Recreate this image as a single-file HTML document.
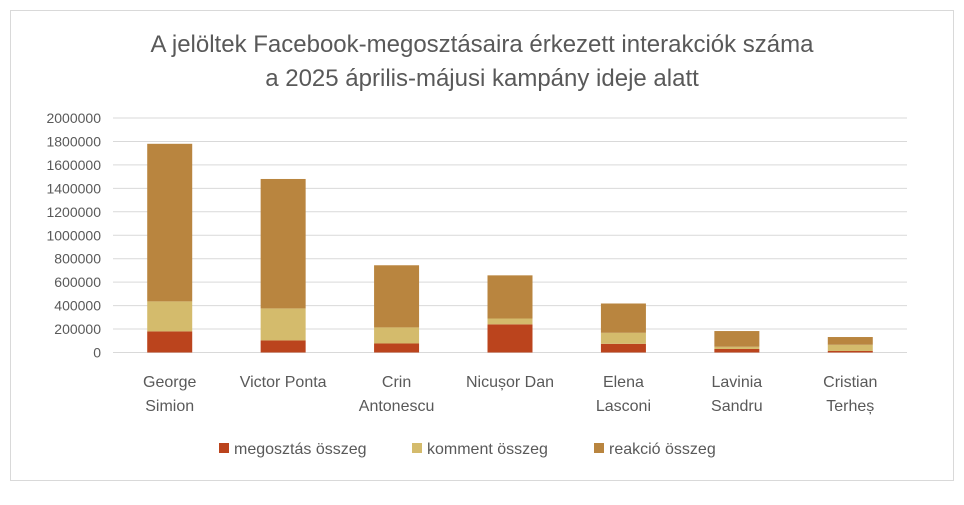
<!DOCTYPE html>
<html><head><meta charset="utf-8"><style>
body{margin:0;background:#fff;font-family:"Liberation Sans",sans-serif;}
#wrap{position:relative;width:964px;height:500px;}
</style></head><body>
<div id="wrap">
<svg id="chart" width="964" height="500">
<rect x="10.5" y="10.5" width="943" height="470" fill="#fff" stroke="#d9d9d9"/>
<text x="482" y="52" text-anchor="middle" font-size="24" fill="#595959">A jelöltek Facebook-megosztásaira érkezett interakciók száma</text>
<text x="482" y="86" text-anchor="middle" font-size="24" fill="#595959">a 2025 április-májusi kampány ideje alatt</text>
<g id="grid"></g><g id="bars"></g><g id="labels"></g>
<g>
<rect x="219" y="443" width="10" height="10" fill="#bb441d"/>
<text x="234" y="454" font-size="16" fill="#595959">megosztás összeg</text>
<rect x="412" y="443" width="10" height="10" fill="#d4bb6c"/>
<text x="427" y="454" font-size="16" fill="#595959">komment összeg</text>
<rect x="594" y="443" width="10" height="10" fill="#b9853f"/>
<text x="609" y="454" font-size="16" fill="#595959">reakció összeg</text>
</g>
</svg></div>
<script>
const categories=[["George","Simion"],["Victor Ponta"],["Crin","Antonescu"],["Nicușor Dan"],["Elena","Lasconi"],["Lavinia","Sandru"],["Cristian","Terheș"]];
const shareVals=[180000,103000,77000,240000,74000,30000,13000];
const commentVals=[256000,273000,137000,50000,94000,19000,53000];
const reactionVals=[1344000,1104000,530000,368000,250000,134000,66000];
const yTicks=[0,200000,400000,600000,800000,1000000,1200000,1400000,1600000,1800000,2000000];
const NS="http://www.w3.org/2000/svg";
const x0=113,x1=907,y0=352.5,yTop=118,yMax=2000000;
const bw=(x1-x0)/categories.length, barW=45;
const y=v=>y0-(v/yMax)*(y0-yTop);
const cx=i=>x0+bw*(i+0.5);
const g=document.getElementById('grid'),b=document.getElementById('bars'),l=document.getElementById('labels');
function mk(t,a){const e=document.createElementNS(NS,t);for(const k in a)e.setAttribute(k,a[k]);return e;}
yTicks.forEach(t=>{
 const ln=mk('line',{x1:x0,x2:x1,y1:y(t),y2:y(t),stroke:'#d9d9d9','stroke-width':1});
 
 
 g.appendChild(ln);
 const tx=mk('text',{x:101,y:y(t)+5,'text-anchor':'end','font-size':14,fill:'#595959'});
 tx.textContent=t;
 
 
 l.appendChild(tx);
});
const series=[[shareVals,'#bb441d','share'],[commentVals,'#d4bb6c','comment'],[reactionVals,'#b9853f','reaction']];
categories.forEach((c,i)=>{
 let base=0;
 series.forEach(([vals,col,nm])=>{
  const v=vals[i];
  const r=mk('rect',{x:cx(i)-barW/2,y:y(base+v),width:barW,height:y(base)-y(base+v),fill:col});
  
  
  b.appendChild(r);
  base+=v;
 });
 c.forEach((s,j)=>{
  const tx=mk('text',{x:cx(i),y:387+j*24,'text-anchor':'middle','font-size':16,fill:'#595959'});
  tx.textContent=s;
  
  
  l.appendChild(tx);
 });
});
</script>
</body></html>
